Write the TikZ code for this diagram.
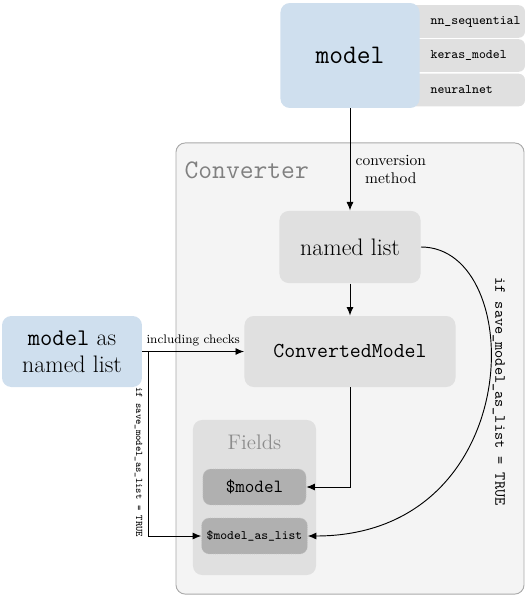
\documentclass[tikz,border=0pt]{standalone}
\usetikzlibrary{arrows.meta}

\definecolor{modelblue}{RGB}{207,223,238}
\definecolor{boxgray}{RGB}{224,224,224}
\definecolor{convgray}{RGB}{244,244,244}
\definecolor{convborder}{RGB}{170,170,170}
\definecolor{convtext}{RGB}{128,128,128}
\definecolor{fieldgray}{RGB}{176,176,176}
\definecolor{fieldedge}{RGB}{196,196,196}
\definecolor{fieldtext}{RGB}{140,140,140}

\begin{document}
\begin{tikzpicture}[x=0.645pt, y=-0.645pt, line width=0.6pt,
    >={Latex[length=5.5pt, width=4.5pt]},
    bluebox/.style={fill=modelblue, rounded corners=6pt},
    graybox/.style={fill=boxgray, rounded corners=6pt},
    tab/.style={fill=boxgray, rounded corners=4pt, minimum width=80.6pt, minimum height=21pt},
    tablabel/.style={anchor=west, font=\ttfamily\fontsize{8.5}{10}\selectfont},
    fieldbox/.style={fill=fieldgray, draw=fieldedge, densely dotted, line width=0.4pt,
        rounded corners=5pt, minimum width=66.5pt, minimum height=23.2pt}]
    \useasboundingbox (0,0) rectangle (526,596);

    % Input classes (tabs behind the model box)
    \node[tab] (nnseq) at (462.5,21.5) {};
    \node[tab] (keras) at (462.5,55.5) {};
    \node[tab] (nnet) at (462.5,90) {};
    \node[tablabel] (nnseqtext) at (425,21.5) {nn\_sequential};
    \node[tablabel] (kerastext) at (425,55.5) {keras\_model};
    \node[tablabel] (nnettext) at (425,90) {neuralnet};
    \node[bluebox, minimum width=89.7pt, minimum height=67.7pt, font=\ttfamily\LARGE] (model) at (350,55.5) {model};

    % Converter
    \node[draw=convborder, fill=convgray, rounded corners=6pt, minimum width=224.5pt, minimum height=291pt] (conv) at (350,368.5) {};
    \node[anchor=west, text=convtext, font=\ttfamily\LARGE] (convlabel) at (179,170) {Converter};

    \node[graybox, minimum width=91pt, minimum height=46.5pt, font=\fontsize{15.4}{18}\selectfont] (named) at (350,247) {named list};
    \node[graybox, minimum width=136.1pt, minimum height=45.8pt, font=\ttfamily\fontsize{13.7}{16}\selectfont] (cm) at (350,351.5) {ConvertedModel};
    \node[bluebox, minimum width=90.3pt, minimum height=45.8pt, align=center, font=\fontsize{15.4}{17.4}\selectfont] (mal) at (72,351.5) {\texttt{model} as\\named list};

    % Fields
    \node[fill=boxgray, rounded corners=6pt, minimum width=79.4pt, minimum height=100pt] (fields) at (254.5,497.5) {};
    \node[text=fieldtext, font=\fontsize{13.6}{16}\selectfont] (fieldslabel) at (254.5,442) {Fields};
    \node[fieldbox, font=\ttfamily\large] (fmodel) at (254.5,487) {\$model};
    \node[fieldbox, font=\ttfamily\fontsize{8.3}{10}\selectfont] (flist) at (254.5,536) {\$model\_as\_list};

    % Connections
    \draw[->] (model) -- (named) node[pos=0.6, right, align=center] {conversion\\method};
    \draw[->] (named) -- (cm);
    \draw[->] (mal) -- (cm) node[midway, above, font=\footnotesize] {including checks};
    \coordinate (branch) at (148,351.5);
    \draw[->] (branch) |- (flist) node[pos=0.3, anchor=north, rotate=-90, font=\ttfamily\fontsize{6.5}{8}\selectfont] {if save\_model\_as\_list = TRUE};
    \draw[->] (cm) |- (fmodel);
    \draw[->] (named.east) .. controls (528,247) and (528,536) .. (flist.east)
        node[pos=0.5, anchor=south, rotate=-90, font=\ttfamily] {if save\_model\_as\_list = TRUE};
\end{tikzpicture}
\end{document}
